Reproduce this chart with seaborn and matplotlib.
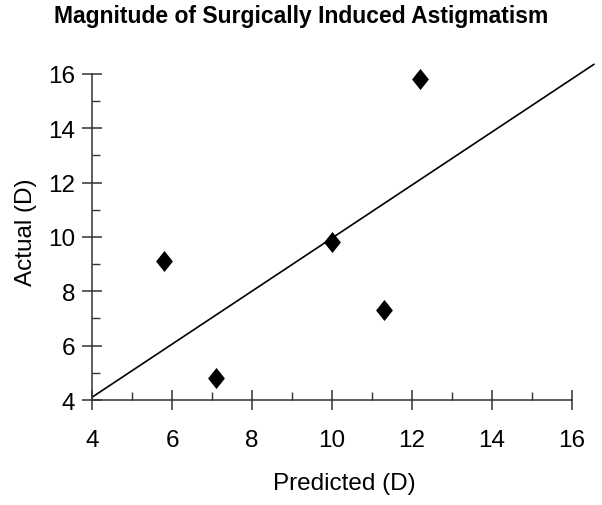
import numpy as np
import pandas as pd
import matplotlib
matplotlib.use("Agg")
import matplotlib.pyplot as plt
from matplotlib.ticker import MultipleLocator
import seaborn as sns

# values
predicted = [5.8, 7.1, 10.0, 11.3, 12.2]
actual = [9.12, 4.8, 9.8, 7.33, 15.8]
fit_x = [4.0, 16.55]
fit_slope = 0.976
fit_intercept = 0.2
x_ticks = [4, 6, 8, 10, 12, 14, 16]
y_ticks = [4, 6, 8, 10, 12, 14, 16]

df = pd.DataFrame({'Predicted': predicted, 'Actual': actual})
fit = pd.DataFrame({'x': fit_x})
fit['y'] = fit_intercept + fit_slope * fit['x']

sns.set_style('white')
plt.rcParams['font.family'] = ['Liberation Sans', 'DejaVu Sans']
plt.rcParams['text.color'] = 'black'
plt.rcParams['axes.labelcolor'] = 'black'
plt.rcParams['xtick.labelcolor'] = 'black'
plt.rcParams['ytick.labelcolor'] = 'black'

fig = plt.figure(figsize=(6.02, 5.06), dpi=100)
ax = fig.add_axes([0.153, 0.2075, 0.837, 0.666])

diamond = [(0, 1), (0.8, 0), (0, -1), (-0.8, 0), (0, 1)]
sns.lineplot(data=fit, x='x', y='y', color='black', lw=1.2, ax=ax)
sns.scatterplot(data=df, x='Predicted', y='Actual', marker=diamond, s=230,
                color='black', edgecolor='black', linewidth=0, ax=ax, zorder=3)

ax.set_xlim(4, 16.6)
ax.set_ylim(4, 16.4)
ax.set_xticks(x_ticks)
ax.set_yticks(y_ticks)
ax.xaxis.set_minor_locator(MultipleLocator(1))
ax.yaxis.set_minor_locator(MultipleLocator(1))
ax.tick_params(which='both', bottom=True, left=True)
ax.tick_params(which='major', direction='inout', length=14, width=1.1,
               color='#333333', labelsize=17.5, labelcolor='black')
ax.tick_params(which='minor', direction='in', length=6, width=1.0, color='#333333')
ax.tick_params(axis='x', which='major', pad=14)
ax.tick_params(axis='y', which='major', pad=5)
for lab in ax.get_xticklabels() + ax.get_yticklabels():
    lab.set_family(['Liberation Sans Narrow', 'Liberation Sans'])

for side in ['top', 'right']:
    ax.spines[side].set_visible(False)
ax.spines['left'].set_bounds(4, 16)
ax.spines['bottom'].set_bounds(4, 16)
for side in ['left', 'bottom']:
    ax.spines[side].set_color('#333333')
    ax.spines[side].set_linewidth(1.1)

ax.set_xlabel('Predicted (D)', fontsize=17.5, labelpad=15, color='black')
ax.set_ylabel('Actual (D)', fontsize=17.5, labelpad=8, color='black')
fig.text(0.5, 0.99, 'Magnitude of Surgically Induced Astigmatism',
         ha='center', va='top', fontsize=16.5, fontweight='bold', color='black')

fig.savefig('out.png', dpi=100, facecolor='white')
